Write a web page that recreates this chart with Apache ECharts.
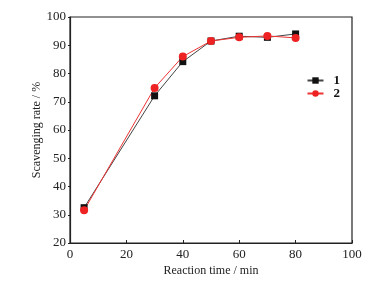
<!DOCTYPE html>
<html>
<head>
<meta charset="utf-8">
<script src="https://cdn.jsdelivr.net/npm/echarts@6/dist/echarts.min.js"></script>
<style>
  html, body { margin: 0; padding: 0; background: #fff; }
  #chart { width: 379px; height: 284px; }
</style>
</head>
<body>
<div id="chart"></div>
<script>
// reaction time (min)
var times = [5, 30, 40, 50, 60, 70, 80];
// scavenging rate (%)
var rate1 = [32.5, 72.1, 84.2, 91.5, 93.2, 92.8, 94.0];
var rate2 = [31.6, 74.9, 86.0, 91.5, 92.8, 93.3, 92.6];

function pairs(xs, ys) {
  return xs.map(function (x, i) { return [x, ys[i]]; });
}

var font = 'Liberation Serif';
var chart = echarts.init(document.getElementById('chart'));
chart.setOption({
  animation: false,
  backgroundColor: '#fff',
  grid: {
    left: 70, top: 17, right: 27, bottom: 41,
    show: true, borderColor: '#222', borderWidth: 1.2
  },
  legend: {
    right: 34, top: 69, orient: 'vertical', itemGap: 0,
    itemWidth: 16, itemHeight: 8,
    textStyle: { fontFamily: font, fontSize: 13, fontWeight: 'bold', color: '#111', padding: [0, 0, 0, 5] },
    data: ['1', '2']
  },
  xAxis: {
    type: 'value', min: 0, max: 100, interval: 20,
    name: 'Reaction time / min', nameLocation: 'middle', nameGap: 22,
    nameMoveOverlap: false,
    nameTextStyle: { fontFamily: font, fontSize: 12, color: '#222' },
    axisLine: { onZero: false, lineStyle: { color: '#222', width: 1.2 } },
    axisTick: { inside: true, length: 3, lineStyle: { color: '#222' } },
    axisLabel: { fontFamily: font, fontSize: 13, color: '#222', margin: 5 },
    splitLine: { show: false }
  },
  yAxis: {
    type: 'value', min: 20, max: 100, interval: 10,
    name: 'Scavenging rate / %', nameLocation: 'middle', nameGap: 27,
    nameMoveOverlap: false,
    nameTextStyle: { fontFamily: font, fontSize: 12, color: '#222' },
    axisLine: { onZero: false, lineStyle: { color: '#222', width: 1.2 } },
    axisTick: { inside: false, length: 2, lineStyle: { color: '#222' } },
    axisLabel: { fontFamily: font, fontSize: 13, color: '#222', margin: 4 },
    splitLine: { show: false }
  },
  series: [
    {
      name: '1', type: 'line', data: pairs(times, rate1),
      symbol: 'rect', symbolSize: 7,
      itemStyle: { color: '#111' },
      lineStyle: { color: '#444', width: 1 }
    },
    {
      name: '2', type: 'line', data: pairs(times, rate2),
      symbol: 'circle', symbolSize: 8,
      itemStyle: { color: '#ee2222' },
      lineStyle: { color: '#ee3333', width: 1 }
    }
  ]
});
</script>
</body>
</html>
